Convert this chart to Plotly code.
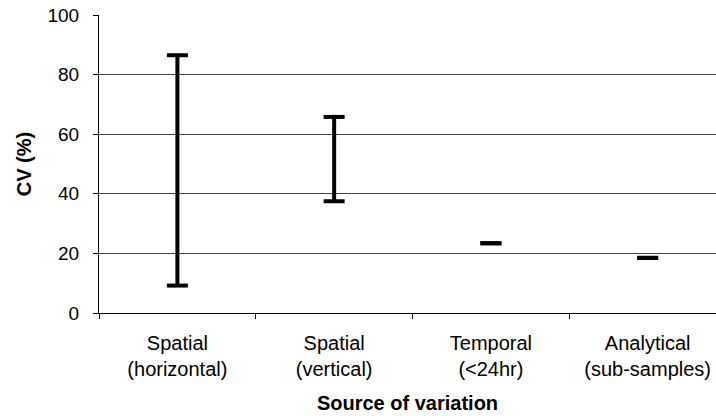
import plotly.graph_objects as go

# Ranges of the coefficient of variation for each source
categories = ["Spatial<br>(horizontal)", "Spatial<br>(vertical)",
              "Temporal<br>(<24hr)", "Analytical<br>(sub-samples)"]
cv_low = [9.2, 37.5, 23.4, 18.5]
cv_high = [86.5, 65.8, 23.4, 18.5]
y_ticks = [0, 20, 40, 60, 80, 100]

FONT = "Liberation Sans, Arial, sans-serif"

fig = go.Figure()
for cat, lo, hi in zip(categories, cv_low, cv_high):
    fig.add_trace(go.Scatter(
        x=[cat, cat], y=[lo, hi],
        mode="lines+markers",
        line=dict(color="black", width=4),
        marker=dict(symbol="line-ew-open", size=15,
                    line=dict(color="black", width=4)),
        showlegend=False, hoverinfo="y",
    ))

fig.update_layout(
    width=716, height=416,
    margin=dict(l=99, r=0, t=15, b=103),
    plot_bgcolor="white", paper_bgcolor="white",
    font=dict(family=FONT, size=19, color="black"),
    xaxis=dict(
        type="category", categoryorder="array", categoryarray=categories,
        range=[-0.5, 3.436], tickson="boundaries",
        ticks="outside", ticklen=5, tickcolor="black",
        showline=True, linecolor="black", linewidth=1,
        showgrid=False, zeroline=False,
        ticklabelstandoff=12,
        tickfont=dict(size=20),
        title=dict(text="<b>Source of variation</b>", standoff=16,
                   font=dict(size=20)),
    ),
    yaxis=dict(
        range=[0, 100], tickvals=y_ticks,
        ticks="outside", ticklen=5, tickcolor="black",
        showline=True, linecolor="black", linewidth=1,
        showgrid=True, gridcolor="#444", gridwidth=1,
        zeroline=False,
        ticklabelstandoff=10,
        tickfont=dict(size=19),
        title=dict(text="<b>CV (%)</b>", standoff=10, font=dict(size=20)),
    ),
)

fig.write_html("out.html")
